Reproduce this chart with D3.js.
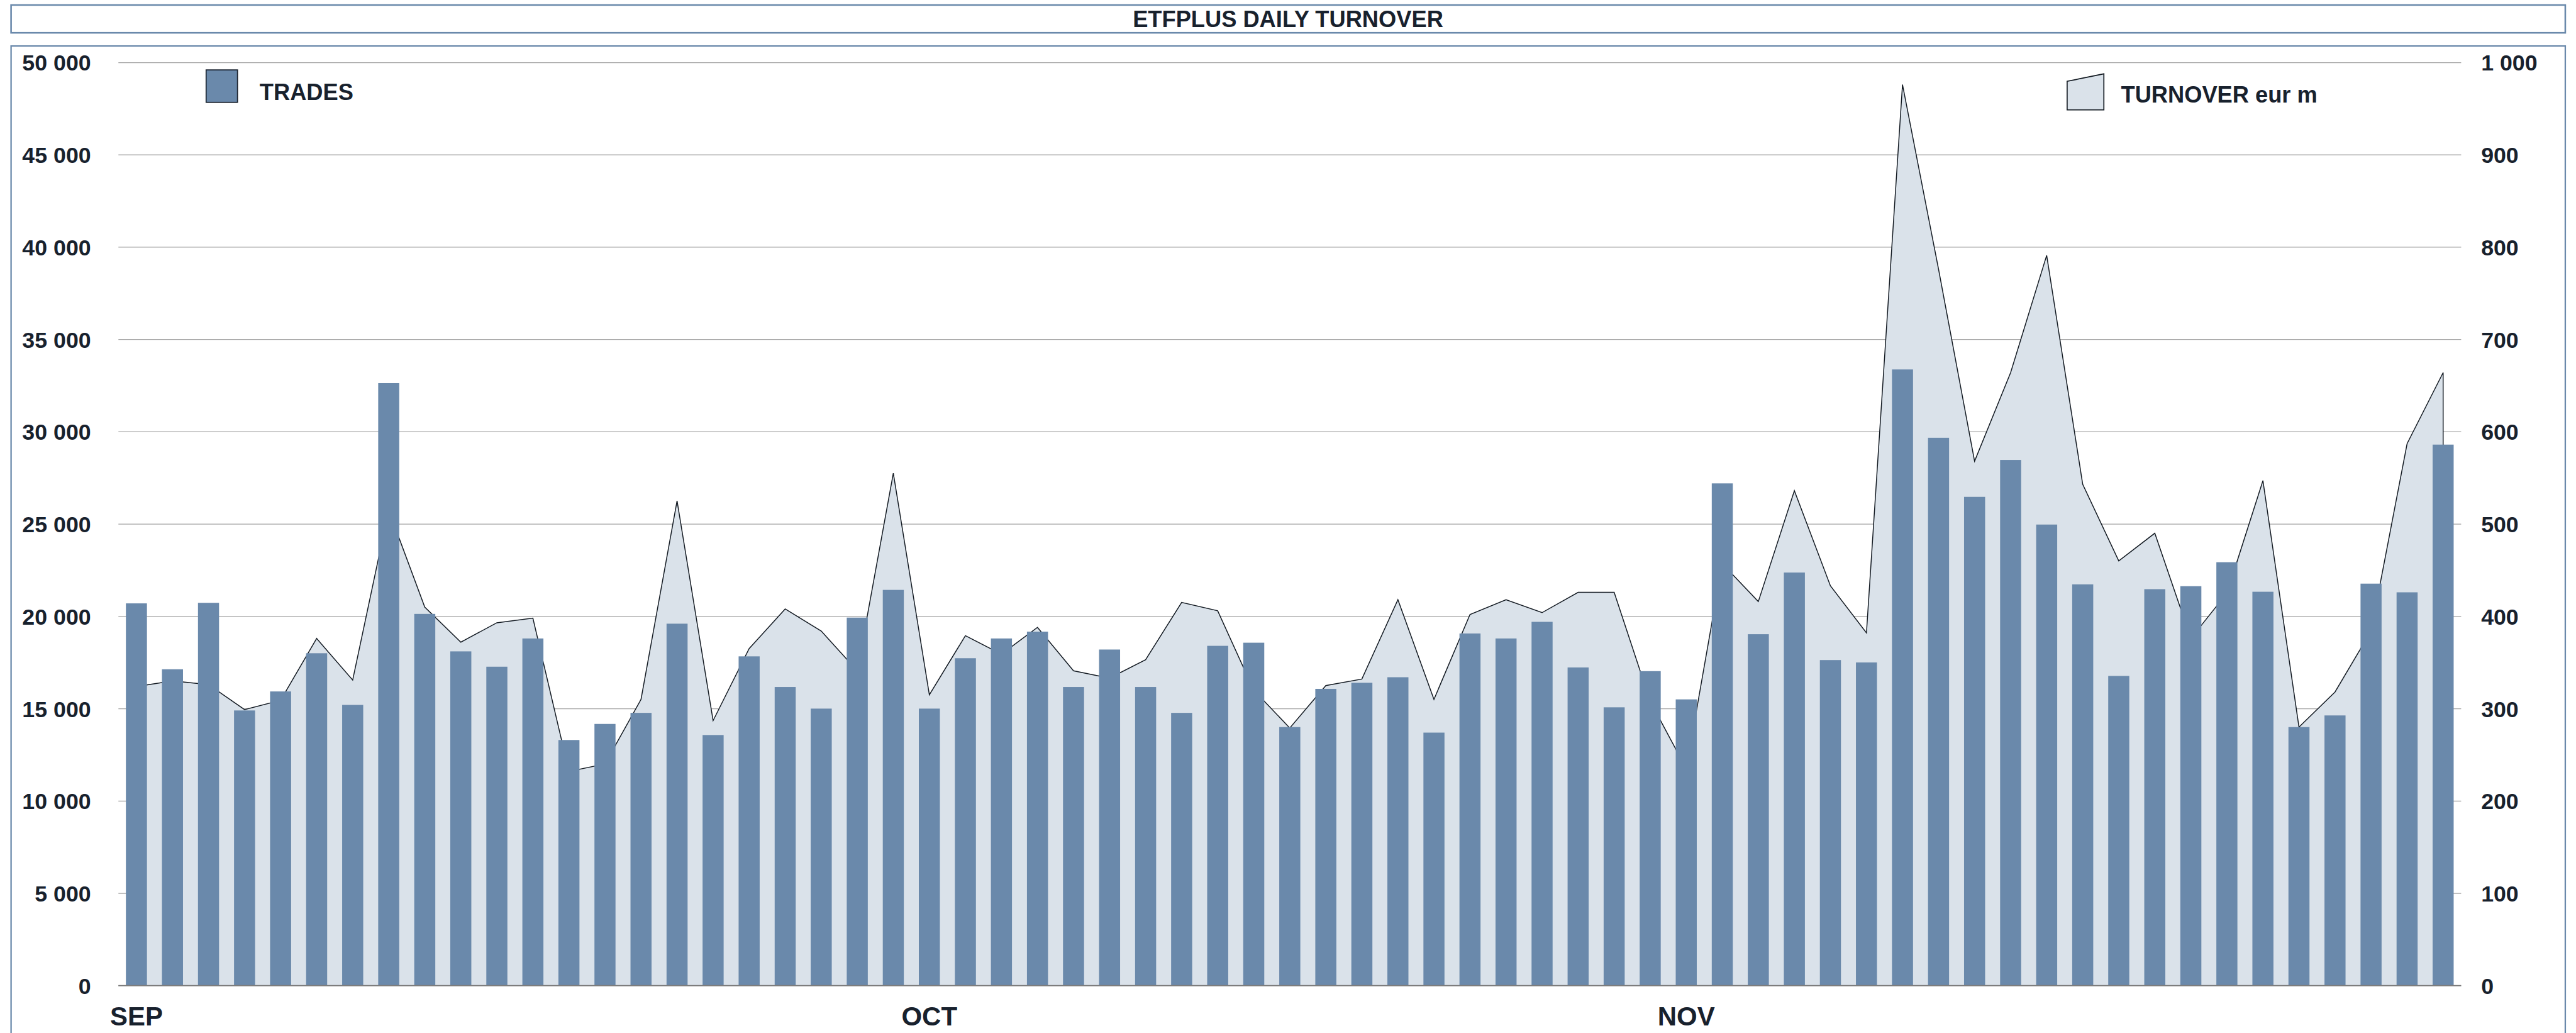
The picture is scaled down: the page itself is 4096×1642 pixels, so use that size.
<!DOCTYPE html>
<html>
<head>
<meta charset="utf-8">
<script src="https://cdn.jsdelivr.net/npm/d3@7"></script>
<style>
  body { margin: 0; background: #fff; }
  svg { display: block; }
  text { font-family: "Liberation Sans", Arial, sans-serif; font-weight: bold; fill: #18212d; }
</style>
</head>
<body>
<svg id="chart"></svg>
<script>
// daily trades (bars, left axis) and turnover in eur m (area, right axis), Sep-Nov
var trades = [20700, 17130, 20730, 14900, 15930, 18000, 15200, 32630, 20130, 18100,
  17270, 18800, 13300, 14170, 14770, 19600, 13570, 17830, 16170, 15000,
  19930, 21430, 15000, 17730, 18800, 19170, 16170, 18200, 16170, 14770,
  18400, 18570, 14000, 16070, 16400, 16700, 13700, 19070, 18800, 19700,
  17230, 15070, 17030, 15500, 27200, 19030, 22370, 17630, 17500, 33370,
  29670, 26470, 28470, 24970, 21730, 16770, 21470, 21630, 22930, 21330,
  14000, 14630, 21770, 21300, 29300];
var turnover = [324, 330, 326, 299, 309, 376, 331, 515, 410, 372,
  393, 398, 232, 240, 310, 525, 287, 365, 408, 384,
  341, 555, 315, 379, 359, 388, 341, 333, 353, 415,
  406, 320, 279, 325, 332, 418, 310, 402, 418, 404,
  426, 426, 308, 235, 457, 416, 536, 433, 382, 976,
  776, 568, 664, 791, 543, 460, 490, 376, 425, 547,
  280, 318, 384, 587, 664];
var monthTicks = [0, 22, 43];
var monthLabels = ["SEP", "OCT", "NOV"];
var tradeTicks = [0, 5000, 10000, 15000, 20000, 25000, 30000, 35000, 40000, 45000, 50000];
var turnoverTicks = [0, 100, 200, 300, 400, 500, 600, 700, 800, 900, 1000];

function drawChart() {
  var W = 7224, H = 2896;
  var svg = d3.select("#chart")
      .attr("width", 4096)
      .attr("height", 1642)
      .attr("viewBox", "0 0 " + W + " " + H);

  var x0 = 332, x1 = 6902, yTop = 175, yBase = 2763;
  var blue = "#6a89ab", pale = "#dae2ea";

  var days = d3.range(trades.length);
  var x = d3.scaleBand().domain(days).range([x0, x1]).paddingInner(0.416).paddingOuter(0.208);
  var yL = d3.scaleLinear().domain([0, 50000]).range([yBase, yTop]);
  var yR = d3.scaleLinear().domain([0, 1000]).range([yBase, yTop]);
  var fmt = d3.formatLocale({decimal: ".", thousands: " ", grouping: [3], currency: ["", ""]}).format(",d");
  var cx = function(i) { return x(i) + x.bandwidth() / 2; };

  // frames
  svg.append("rect")
      .attr("x", 31).attr("y", 14).attr("width", 7163).attr("height", 78)
      .attr("fill", "#fff").attr("stroke", blue).attr("stroke-width", 4.5);
  svg.append("rect")
      .attr("x", 31).attr("y", 129).attr("width", 7163).attr("height", 2900)
      .attr("fill", "#fff").attr("stroke", blue).attr("stroke-width", 4);

  svg.append("text")
      .attr("x", 3612).attr("y", 76)
      .attr("text-anchor", "middle")
      .attr("font-size", 64)
      .text("ETFPLUS DAILY TURNOVER");

  // gridlines
  svg.append("g")
      .attr("transform", "translate(" + x0 + ",0)")
      .call(d3.axisLeft(yL).tickValues(tradeTicks).tickSize(-(x1 - x0)).tickFormat(""))
      .call(function(g) { g.select(".domain").remove(); })
    .selectAll("line")
      .attr("stroke", "#a3a3a3")
      .attr("stroke-width", 2.2);

  // turnover area
  var area = d3.area()
      .x(function(d, i) { return cx(i); })
      .y0(yBase)
      .y1(function(d) { return yR(d); });

  svg.append("path")
      .datum(turnover)
      .attr("d", area)
      .attr("fill", pale);

  var pts = [[cx(0), yR(0)]]
      .concat(turnover.map(function(d, i) { return [cx(i), yR(d)]; }))
      .concat([[cx(turnover.length - 1), yR(0)]]);

  svg.append("path")
      .datum(pts)
      .attr("d", d3.line())
      .attr("fill", "none")
      .attr("stroke", "#111820")
      .attr("stroke-width", 2.6)
      .attr("stroke-linejoin", "miter");

  // trades bars
  svg.selectAll(".bar")
      .data(trades)
    .enter().append("rect")
      .attr("class", "bar")
      .attr("x", function(d, i) { return x(i); })
      .attr("y", function(d) { return yL(d); })
      .attr("width", x.bandwidth())
      .attr("height", function(d) { return yBase - yL(d); })
      .attr("fill", blue);

  svg.append("line")
      .attr("x1", x0).attr("x2", x1)
      .attr("y1", yBase).attr("y2", yBase)
      .attr("stroke", "#7d7d7d")
      .attr("stroke-width", 3);

  // axes
  svg.append("g")
      .attr("transform", "translate(" + x0 + ",0)")
      .call(d3.axisLeft(yL).tickValues(tradeTicks).tickSize(0).tickPadding(77).tickFormat(fmt))
      .call(function(g) { g.select(".domain").remove(); })
    .selectAll("text")
      .attr("font-size", 63)
      .attr("dy", "0.36em");

  svg.append("g")
      .attr("transform", "translate(" + x1 + ",0)")
      .call(d3.axisRight(yR).tickValues(turnoverTicks).tickSize(0).tickPadding(56).tickFormat(fmt))
      .call(function(g) { g.select(".domain").remove(); })
    .selectAll("text")
      .attr("font-size", 63)
      .attr("dy", "0.36em");

  svg.append("g")
      .attr("transform", "translate(0," + yBase + ")")
      .call(d3.axisBottom(x).tickValues(monthTicks).tickSize(0)
        .tickFormat(function(d, i) { return monthLabels[i]; }))
      .call(function(g) { g.select(".domain").remove(); })
    .selectAll("text")
      .attr("font-size", 74)
      .attr("y", 112)
      .attr("dy", 0);

  // legend
  svg.append("rect")
      .attr("x", 578).attr("y", 196).attr("width", 88).attr("height", 91)
      .attr("fill", blue).attr("stroke", "#18212d").attr("stroke-width", 3);
  svg.append("text")
      .attr("x", 728).attr("y", 280)
      .attr("font-size", 64)
      .text("TRADES");

  svg.append("path")
      .attr("d", "M5797,308L5797,228L5900,207L5900,308Z")
      .attr("fill", pale).attr("stroke", "#111820").attr("stroke-width", 3);
  svg.append("text")
      .attr("x", 5948).attr("y", 287)
      .attr("font-size", 64)
      .text("TURNOVER eur m");
}

drawChart();
</script>
</body>
</html>
